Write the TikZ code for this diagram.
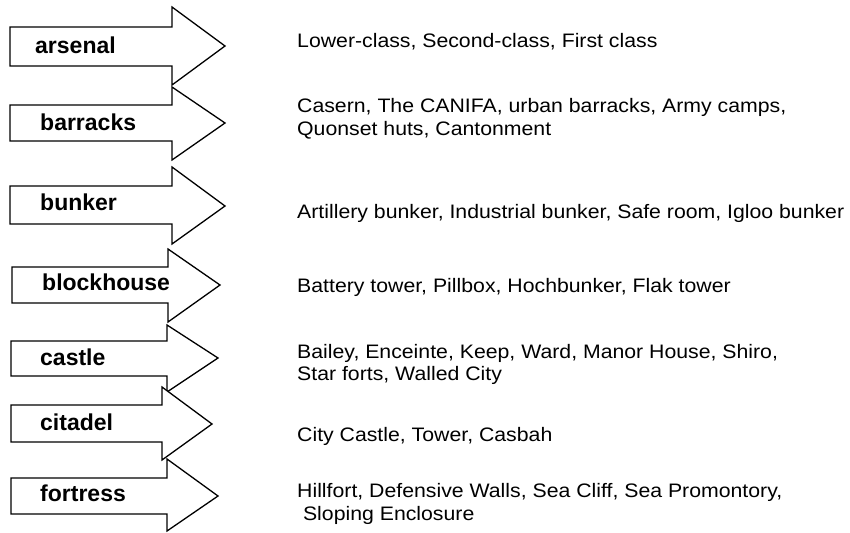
\documentclass[tikz,border=0pt]{standalone}
\usepackage{fontspec}
\setmainfont{Liberation Sans}
\newfontfamily\lblfamily{Liberation Sans}
\newfontfamily\descfamily[FakeStretch=1.09]{Liberation Sans}
\newcommand\blockarr[8]{%
  \draw[arrowshape] (#1,#2) -- (#4,#2) -- (#4,#5) -- (#7,#8) -- (#4,#6) -- (#4,#3) -- (#1,#3) -- cycle;}
\begin{document}
\begin{tikzpicture}[x=1pt,y=-1pt,
  arrowshape/.style={draw=black,fill=white,line width=1.3pt,line join=miter},
  lbl/.style={anchor=west,inner sep=0pt,font=\lblfamily\bfseries\fontsize{23}{26}\selectfont},
  desc/.style={anchor=base west,inner sep=0pt,align=left,font=\descfamily\fontsize{19.5}{22}\selectfont}]
\useasboundingbox[fill=white] (0,0) rectangle (850,532);
% block arrows: left, body top, body bottom, shaft right, head top, head bottom, tip x, tip y
\blockarr{10}{27}{66}{172}{7}{85}{225}{46}
\blockarr{10}{105}{141}{172}{87}{160}{225}{123}
\blockarr{10}{186}{224}{172}{167}{244}{225}{206}
\blockarr{12}{267}{303}{168}{249}{322}{220}{285}
\blockarr{11}{341}{376}{167}{325}{392}{218}{358}
\blockarr{11}{405}{442}{162}{387}{460}{212}{424}
\blockarr{11}{478}{514}{167}{459}{531}{218}{496}
% labels
\node[lbl] (arsenal) at (35,45) {arsenal};
\node[lbl] (barracks) at (40,122) {barracks};
\node[lbl] (bunker) at (40,202) {bunker};
\node[lbl] (blockhouse) at (42,282) {blockhouse};
\node[lbl] (castle) at (40,357) {castle};
\node[lbl] (citadel) at (40,422) {citadel};
\node[lbl] (fortress) at (40,493) {fortress};
% descriptions (multi-line nodes are anchored at the baseline of their last line)
\node[desc] (d1) at (297,48) {Lower-class, Second-class, First class};
\node[desc] (d2) at (297,135) {Casern, The CANIFA, urban barracks, Army camps,\\Quonset huts, Cantonment};
\node[desc] (d3) at (297,218) {Artillery bunker, Industrial bunker, Safe room, Igloo bunker};
\node[desc] (d4) at (297,292) {Battery tower, Pillbox, Hochbunker, Flak tower};
\node[desc] (d5) at (297,380) {Bailey, Enceinte, Keep, Ward, Manor House, Shiro,\\Star forts, Walled City};
\node[desc] (d6) at (297,441) {City Castle, Tower, Casbah};
\node[desc] (d7) at (297,520) {Hillfort, Defensive Walls, Sea Cliff, Sea Promontory,\\[1pt]\hspace*{0.3em}Sloping Enclosure};
\end{tikzpicture}
\end{document}
